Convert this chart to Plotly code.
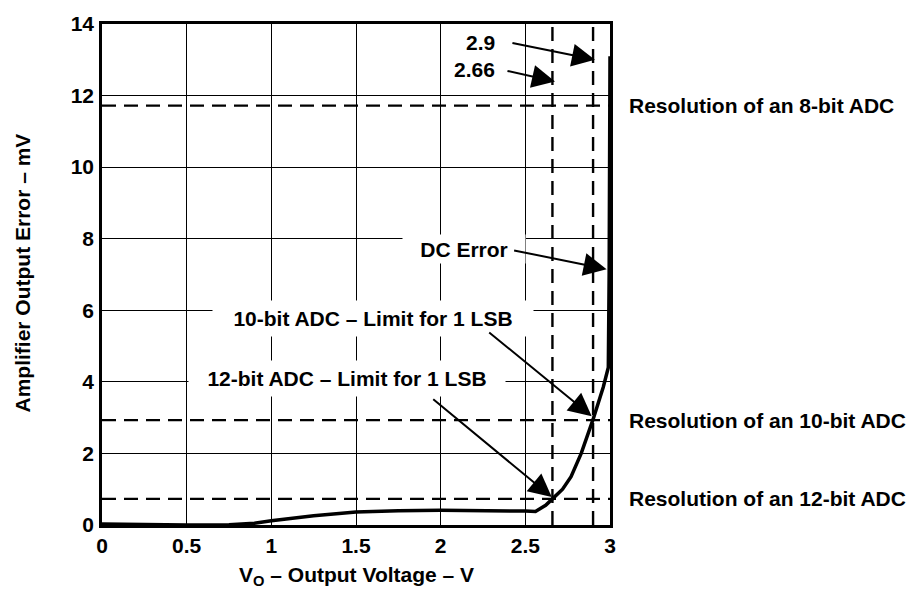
import plotly.graph_objects as go

# Data
vo = [0, 0.25, 0.5, 0.75, 0.9, 1.0, 1.25, 1.5, 1.75, 2.0, 2.25, 2.5, 2.56,
      2.62, 2.66, 2.72, 2.77, 2.83, 2.9, 2.96, 2.99, 2.995, 3.0]
err = [0.03, 0.01, 0.0, 0.01, 0.05, 0.12, 0.26, 0.36, 0.40, 0.41, 0.41, 0.39, 0.38,
       0.55, 0.73, 1.0, 1.35, 2.0, 2.95, 3.85, 4.4, 7.0, 13.1]

adc_labels = ["Resolution of an 8-bit ADC", "Resolution of an 10-bit ADC",
              "Resolution of an 12-bit ADC"]
adc_resolution = [11.72, 2.93, 0.73]
limit_voltages = [2.66, 2.9]
limit_labels = ["2.66", "2.9"]

x_ticks = [0, 0.5, 1, 1.5, 2, 2.5, 3]
x_tick_labels = ["0", "0.5", "1", "1.5", "2", "2.5", "3"]
y_ticks = [0, 2, 4, 6, 8, 10, 12, 14]
y_tick_labels = ["0", "2", "4", "6", "8", "10", "12", "14"]

FONT = "Liberation Sans, Arial, Helvetica, sans-serif"
FS = 21

fig = go.Figure()
fig.add_trace(go.Scatter(x=vo, y=err, mode="lines",
                         line=dict(color="black", width=3.5),
                         showlegend=False, hoverinfo="skip"))

shapes = []
for r in adc_resolution:
    shapes.append(dict(type="line", xref="x", yref="y", x0=0, x1=3, y0=r, y1=r,
                       line=dict(color="black", width=2.2, dash="14px,8px")))
for v in limit_voltages:
    shapes.append(dict(type="line", xref="x", yref="y", x0=v, x1=v, y0=0, y1=14,
                       line=dict(color="black", width=2.4, dash="14px,8px")))

bold = dict(family=FONT, size=FS, color="black", weight="bold")
ann = []
# right-side resolution labels
for lab, r in zip(adc_labels, adc_resolution):
    ann.append(dict(text=lab, xref="paper", yref="y", x=1, y=r, xshift=17,
                    xanchor="left", yanchor="middle", showarrow=False, font=bold))

# labels with white boxes
ann.append(dict(text="DC Error", x=2.135, y=7.72, showarrow=False, font=bold,
                bgcolor="white", width=120, height=26, xanchor="center", yanchor="middle"))
ann.append(dict(text="10-bit ADC – Limit for 1 LSB", x=1.598, y=5.78, showarrow=False,
                font=bold, bgcolor="white", width=318, height=33,
                xanchor="center", yanchor="middle"))
ann.append(dict(text="12-bit ADC – Limit for 1 LSB", x=1.449, y=4.1, showarrow=False,
                font=bold, bgcolor="white", width=314, height=33,
                xanchor="center", yanchor="middle"))
ann.append(dict(text=limit_labels[1], x=2.333, y=13.49, showarrow=False, font=bold,
                xanchor="right", yanchor="middle"))
ann.append(dict(text=limit_labels[0], x=2.333, y=12.73, showarrow=False, font=bold,
                xanchor="right", yanchor="middle"))

# arrows (head position, tail offset in px)
arrows = [
    (2.911, 13.0, -84, -17),
    (2.675, 12.39, -49, -11),
    (2.98, 7.15, -94, -19),
    (2.892, 3.04, -104, -85),
    (2.656, 0.78, -120, -99),
]
for hx, hy, ax, ay in arrows:
    ann.append(dict(text="", x=hx, y=hy, ax=ax, ay=ay, axref="pixel", ayref="pixel",
                    showarrow=True, arrowhead=2, arrowsize=2.3, arrowwidth=2,
                    arrowcolor="black", standoff=0, startstandoff=0))

# axis titles
ann.append(dict(text="Amplifier Output Error – mV", xref="paper", yref="paper",
                x=0, y=0.502, xshift=-80, textangle=-90, showarrow=False,
                xanchor="center", yanchor="middle", font=bold))
ann.append(dict(text="V<sub>O</sub> – Output Voltage – V", xref="paper", yref="paper",
                x=0.5, y=0, yshift=-51, showarrow=False,
                xanchor="center", yanchor="middle", font=bold))

fig.update_layout(
    width=914, height=589,
    margin=dict(l=102, r=304, t=19, b=64, pad=0),
    paper_bgcolor="white", plot_bgcolor="white",
    font=dict(family=FONT, size=FS, color="black"),
    shapes=shapes, annotations=ann, showlegend=False,
)
fig.update_xaxes(range=[0, 3], tickvals=x_ticks, ticktext=x_tick_labels,
                 showgrid=True, gridcolor="black", gridwidth=1,
                 showline=True, linecolor="black", linewidth=2.5, mirror=True,
                 ticks="", tickfont=bold, zeroline=False)
fig.update_yaxes(range=[0, 14], tickvals=y_ticks, ticktext=y_tick_labels,
                 showgrid=True, gridcolor="black", gridwidth=1,
                 showline=True, linecolor="black", linewidth=2.5, mirror=True,
                 ticks="outside", ticklen=1, tickcolor="white",
                 tickfont=bold, zeroline=False)

fig.write_html("out.html")
